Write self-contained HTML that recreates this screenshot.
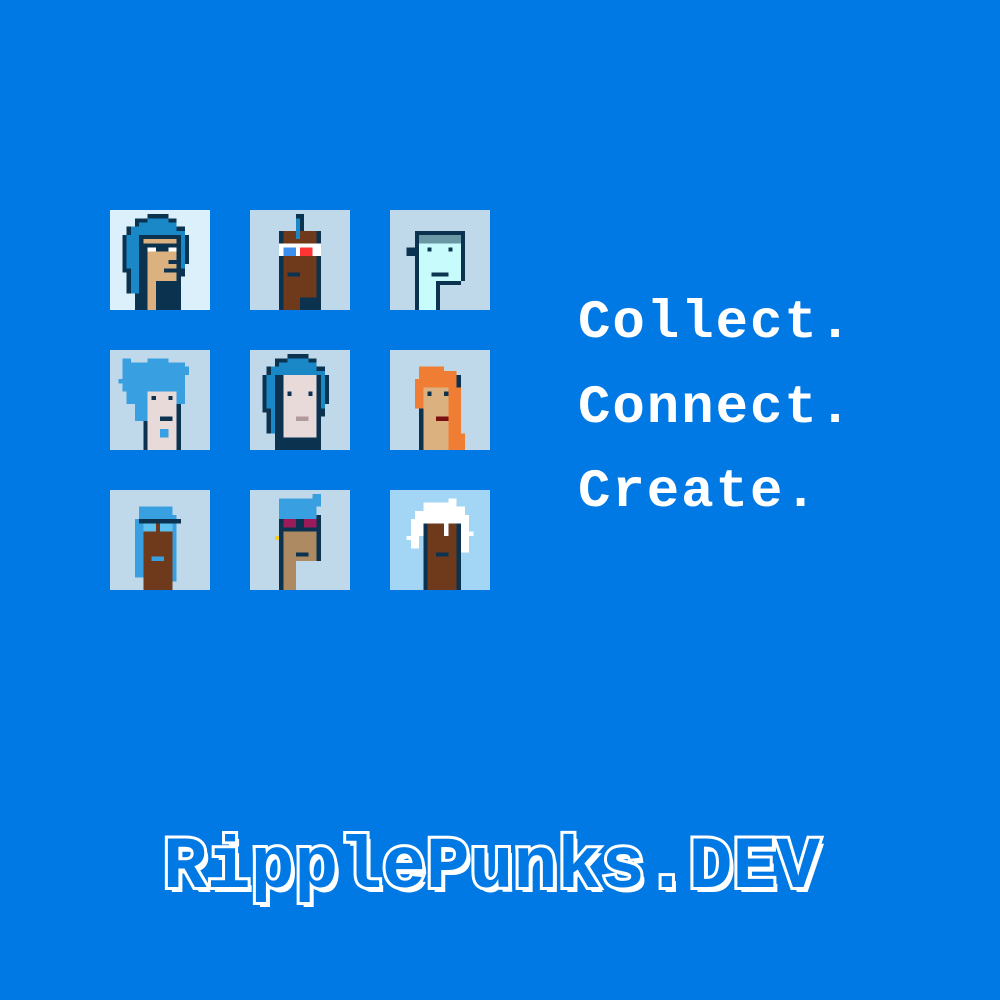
<!DOCTYPE html>
<html><head><meta charset="utf-8"><style>
html,body{margin:0;padding:0;}
body{width:1000px;height:1000px;background:#0079e5;position:relative;overflow:hidden;font-family:"Liberation Mono",monospace;}
.t{position:absolute;width:100px;height:100px;}
.t svg{display:block;width:100px;height:100px;shape-rendering:crispEdges;}
.w{position:absolute;left:578px;color:#fff;font-weight:bold;font-size:54px;line-height:54px;letter-spacing:2px;}
.title{position:absolute;left:163px;top:828px;font-size:73px;line-height:80px;font-weight:bold;color:#0079e5;-webkit-text-stroke:6px #fff;paint-order:stroke fill;text-shadow:4px 5px 0 #fff;letter-spacing:0px;white-space:nowrap;}
</style></head><body>

<div class="t" style="left:110px;top:210px"><svg viewBox="0 0 24 24"><rect width="24" height="24" fill="#dcf0fc"/>
<path d="M9 1h5v1h2v2h2v2h1v7h-1v3h-2v3h-2v5H6V20H4V15H3V6h1V4h2V2h3z" fill="#0b3350"/>
<path d="M9 2h5v1h2v2h2v9h-1v3h-2v2h-2v5H7V20H5V14H4V6h1V4h2V3h2z" fill="#1a87c6"/>
<rect x="7" y="6" width="10" height="18" fill="#0b3350"/>
<rect x="8" y="7" width="8" height="1" fill="#dbb180"/>
<rect x="9" y="9" width="2" height="1" fill="#fff"/><rect x="14" y="9" width="2" height="1" fill="#fff"/>
<rect x="9" y="10" width="7" height="14" fill="#dbb180"/><rect x="14" y="12" width="2" height="1" fill="#0b3350"/><rect x="13" y="14" width="3" height="1" fill="#0b3350"/>
<rect x="11" y="17" width="6" height="7" fill="#0b3350"/></svg></div>

<div class="t" style="left:250px;top:210px"><svg viewBox="0 0 24 24"><rect width="24" height="24" fill="#bfd9ea"/>
<rect x="11" y="1" width="2" height="5" fill="#0b3350"/>
<rect x="7" y="5" width="10" height="19" fill="#0b3350"/>
<rect x="8" y="5" width="8" height="16" fill="#6f3a1c"/><rect x="8" y="21" width="4" height="3" fill="#6f3a1c"/>
<rect x="11" y="2" width="1" height="5" fill="#1a87c6"/>
<rect x="7" y="8" width="10" height="3" fill="#fff"/><rect x="8" y="9" width="3" height="2" fill="#3a8ff0"/><rect x="12" y="9" width="3" height="2" fill="#f33"/>
<rect x="9" y="15" width="3" height="1" fill="#0b3350"/></svg></div>

<div class="t" style="left:390px;top:210px"><svg viewBox="0 0 24 24"><rect width="24" height="24" fill="#bfd9ea"/>
<rect x="6" y="5" width="12" height="19" fill="#0b3350"/><rect x="4" y="9" width="3" height="2" fill="#0b3350"/>
<rect x="7" y="6" width="10" height="18" fill="#c8fbfb"/><rect x="7" y="6" width="10" height="2" fill="#6b98a5"/>
<rect x="11" y="17" width="7" height="7" fill="#bfd9ea"/><rect x="11" y="17" width="1" height="7" fill="#0b3350"/><rect x="11" y="17" width="6" height="1" fill="#0b3350"/>
<rect x="10" y="15" width="4" height="1" fill="#0b3350"/><rect x="9" y="9" width="1" height="1" fill="#0b3350"/><rect x="14" y="9" width="1" height="1" fill="#0b3350"/></svg></div>

<div class="t" style="left:110px;top:350px"><svg viewBox="0 0 24 24"><rect width="24" height="24" fill="#bfd9ea"/>
<rect x="8" y="8" width="9" height="16" fill="#0b3350"/><rect x="9" y="8" width="7" height="16" fill="#e9dada"/>
<path d="M3 2h2v1h4V2h5v1h4v1h1v2h-1v7h-2V10H9v7H6v-4H4v-3H3V8H2V7h1z" fill="#38a0e0"/>
<rect x="10" y="11" width="1" height="1" fill="#0b3350"/><rect x="14" y="11" width="1" height="1" fill="#0b3350"/><rect x="12" y="16" width="3" height="1" fill="#0b3350"/><rect x="12" y="19" width="2" height="2" fill="#38a0e0"/></svg></div>

<div class="t" style="left:250px;top:350px"><svg viewBox="0 0 24 24"><rect width="24" height="24" fill="#bfd9ea"/>
<path d="M9 1h5v1h2v2h2v2h1v7h-1v3h-2v3h-2v5H6V20H4V15H3V6h1V4h2V2h3z" fill="#0b3350"/>
<path d="M9 2h5v1h2v2h2v9h-1v3h-2v2h-2v5H7V20H5V14H4V6h1V4h2V3h2z" fill="#1a87c6"/>
<rect x="6" y="6" width="11" height="18" fill="#0b3350"/><rect x="8" y="6" width="8" height="15" fill="#e9dada"/>
<rect x="9" y="10" width="1" height="1" fill="#0b3350"/><rect x="14" y="10" width="1" height="1" fill="#0b3350"/><rect x="11" y="16" width="3" height="1" fill="#b39a9a"/></svg></div>

<div class="t" style="left:390px;top:350px"><svg viewBox="0 0 24 24"><rect width="24" height="24" fill="#bfd9ea"/>
<rect x="7" y="6" width="10" height="18" fill="#0b3350"/><rect x="8" y="6" width="8" height="18" fill="#dbb180"/>
<path d="M7 4h6v1h3v4h1v11h1v4h-4V9H8v5H6V7h1z" fill="#f07d34"/>
<rect x="9" y="10" width="1" height="1" fill="#0b3350"/><rect x="13" y="10" width="1" height="1" fill="#0b3350"/><rect x="11" y="16" width="3" height="1" fill="#7a0f0f"/></svg></div>

<div class="t" style="left:110px;top:490px"><svg viewBox="0 0 24 24"><rect width="24" height="24" fill="#bfd9ea"/>
<path d="M7 4h8v2h1v16h-3v2H8v-3H6V7h1z" fill="#38a0e0"/>
<rect x="8" y="7" width="7" height="17" fill="#6f3a1c"/><rect x="7" y="7" width="10" height="1" fill="#0b3350"/>
<rect x="8" y="8" width="3" height="2" fill="#5cc0f0"/><rect x="12" y="8" width="3" height="2" fill="#5cc0f0"/><rect x="10" y="16" width="3" height="1" fill="#38a0e0"/></svg></div>

<div class="t" style="left:250px;top:490px"><svg viewBox="0 0 24 24"><rect width="24" height="24" fill="#bfd9ea"/>
<rect x="7" y="6" width="10" height="18" fill="#0b3350"/><rect x="8" y="6" width="8" height="18" fill="#ad8a62"/>
<rect x="11" y="17" width="6" height="7" fill="#bfd9ea"/>
<path d="M7 2h8V1h2v3h-1v3H7z" fill="#38a0e0"/>
<rect x="7" y="7" width="10" height="3" fill="#0b3350"/><rect x="8" y="7" width="3" height="2" fill="#9b1b5a"/><rect x="13" y="7" width="3" height="2" fill="#9b1b5a"/>
<rect x="6" y="11" width="1" height="1" fill="#f5d020"/><rect x="11" y="15" width="3" height="1" fill="#0b3350"/></svg></div>

<div class="t" style="left:390px;top:490px"><svg viewBox="0 0 24 24"><rect width="24" height="24" fill="#a3d6f5"/>
<rect x="8" y="7" width="9" height="17" fill="#0b3350"/><rect x="9" y="7" width="7" height="17" fill="#6f3a1c"/>
<path d="M8 3h6V2h2v2h2v2h1v4h1v1h-1v4h-2V8h-3v3h-1V8H8v3H7v3H5v-2H4v-1h1V7h1V5h2z" fill="#fff"/>
<rect x="11" y="15" width="3" height="1" fill="#0b3350"/></svg></div>

<div class="w" style="top:297px">Collect.</div>
<div class="w" style="top:382px">Connect.</div>
<div class="w" style="top:466px">Create.</div>

<div class="title">RipplePunks.DEV</div>
</body></html>
